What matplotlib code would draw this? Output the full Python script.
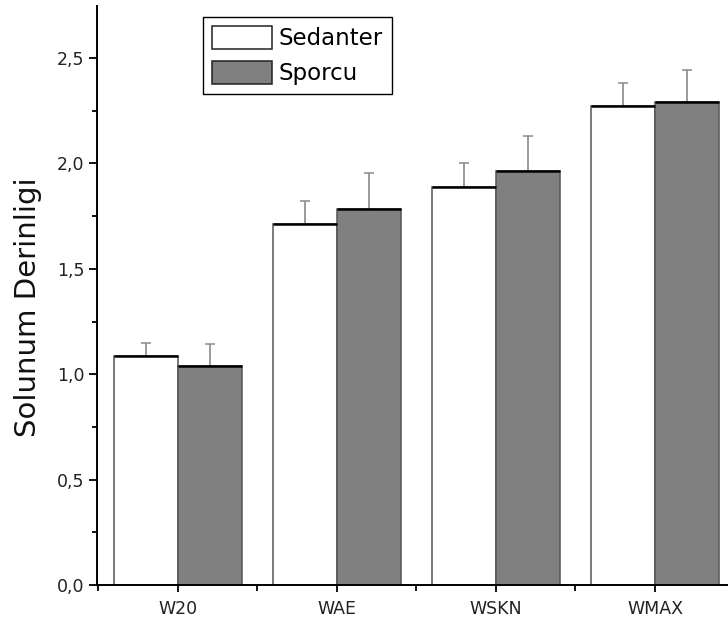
import numpy as np
import matplotlib
matplotlib.use('Agg')
import matplotlib.pyplot as plt
from matplotlib.ticker import MultipleLocator, FuncFormatter

# Data
categories = ['W20', 'WAE', 'WSKN', 'WMAX']
series_names = ['Sedanter', 'Sporcu']
sedanter_mean = [1.086, 1.712, 1.888, 2.272]
sedanter_err = [0.062, 0.110, 0.114, 0.109]
sporcu_mean = [1.039, 1.784, 1.964, 2.291]
sporcu_err = [0.104, 0.171, 0.166, 0.152]
ylabel = 'Solunum Derinligi'

plt.rcParams['font.family'] = ['DejaVu Sans']

W, H = 728, 633
fig = plt.figure(figsize=(W/100.0, H/100.0), dpi=100, facecolor='w')
ax = fig.add_axes([97.0/W, 48.0/H, 631.0/W, 579.0/H])

x = np.arange(len(categories))
bw = 0.4
colors = ['white', '#808080']
means = [sedanter_mean, sporcu_mean]
errs = [sedanter_err, sporcu_err]
offsets = [-bw/2, bw/2]
for name, m, e, c, off in zip(series_names, means, errs, colors, offsets):
    m = np.array(m)
    e = np.array(e)
    ax.errorbar(x+off, m, yerr=[np.zeros_like(e), e], fmt='none', ecolor='#8a8a8a',
                elinewidth=1.2, capsize=3.4, capthick=1.1, zorder=1)
    ax.bar(x+off, m, width=bw, color=c, edgecolor='#555555', linewidth=1.1, label=name, zorder=2)
    ax.hlines(m, x+off-bw/2, x+off+bw/2, colors='k', linewidth=1.8, zorder=3)

ax.set_xlim(-0.509, 3.459)
ax.set_ylim(0, 2.747)
ax.spines['top'].set_visible(False)
ax.spines['right'].set_visible(False)
ax.spines['left'].set_linewidth(1.4)
ax.spines['bottom'].set_linewidth(1.4)

ax.set_xticks(x)
ax.set_xticklabels(categories)
ax.xaxis.set_minor_locator(MultipleLocator(1.0))
ax.set_xticks(x[:-1]+0.5, minor=True)
ax.set_xticks([-0.5, 0.5, 1.5, 2.5], minor=True)
ax.yaxis.set_major_locator(MultipleLocator(0.5))
ax.yaxis.set_minor_locator(MultipleLocator(0.25))
ax.yaxis.set_major_formatter(FuncFormatter(lambda v, p: '{:.1f}'.format(v).replace('.', ',')))
ax.tick_params(axis='y', which='major', direction='out', length=6, width=1.3, labelsize=12.5, pad=3, colors='k', labelcolor='#222222')
ax.tick_params(axis='y', which='minor', direction='out', length=3.3, width=1.3)
ax.tick_params(axis='x', which='major', direction='out', length=5, width=1.3, labelsize=12.5, pad=6, labelcolor='#222222')
ax.tick_params(axis='x', which='minor', direction='out', length=4, width=1.3)

fig.text(28.0/W, 1-307.0/H, ylabel, rotation=90, ha='center', va='center', fontsize=21, color='#111111')

leg = ax.legend(loc='upper left', bbox_to_anchor=(0.168, 0.981), borderaxespad=0,
                fontsize=16.5, handlelength=2.6, handleheight=1.13, labelspacing=0.48,
                handletextpad=0.3, borderpad=0.4, fancybox=False, framealpha=1, edgecolor='k')
leg.get_frame().set_linewidth(1.0)
for h in leg.legend_handles:
    h.set_edgecolor('#222222')

fig.savefig('out.png', dpi=100)
